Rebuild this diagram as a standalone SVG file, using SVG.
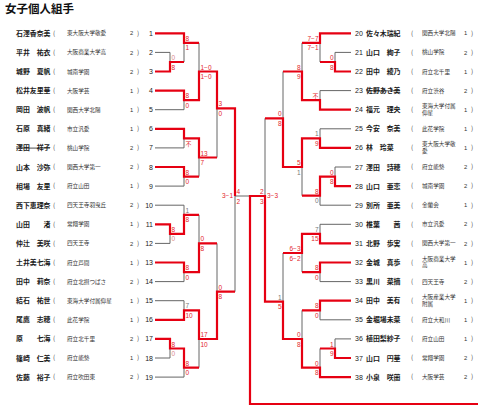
<svg xmlns="http://www.w3.org/2000/svg" width="482" height="415" viewBox="0 0 482 415">
<style>
text{font-family:"Noto Sans CJK JP","Noto Sans CJK SC",sans-serif}
.t{font-size:11.5px;font-weight:700;fill:#111}
.nm{font-size:6.9px;font-weight:700;fill:#1a1a1a}
.sc{font-size:5.6px;fill:#333}
.pa{font-size:6.5px;fill:#444}
.gr{font-size:5.8px;fill:#333;font-family:"Liberation Sans",sans-serif}
.no{font-size:7px;fill:#222;font-family:"Liberation Sans",sans-serif}
.s{font-size:6.5px;fill:#e3262b;font-family:"Liberation Sans",sans-serif}
.sg{fill:#777}
.sp{fill:#d98a8a}
.e{text-anchor:end}
.r{stroke:#e60012;stroke-width:2.2;fill:none}
.g{stroke:#666;stroke-width:1;fill:none}
.k{stroke:#222;stroke-width:0.8}
</style>
<text class="t" x="5" y="12.5">女子個人組手</text>

<g id="connectors">
<path class="g" d="M155 52.4H170V62M155 109.7H184V100.2M155 147.9H184V138.4M155 186.1H184V176.6M155 205.2H184V214.8M155 243.4H170V233.9M155 281.6H184V272.1M155 300.7H184V310.3M155 358H170V348.5M155 377.1H184V367.6M184 62V42.9M199 42.9V71.5M199 176.6V157.5M217 157.5V108.3M199 214.8V243.4M199 367.6V339M217 243.4V291.7M235 291.7V196M235 196H250"/>
<path class="g" d="M351 52.4H335V62M351 90.6H320V100.2M351 128.8H320V138.4M351 167H335V176.6M351 205.2H320V195.7M351 224.3H320V233.9M351 281.6H320V272.1M351 319.8H320V310.3M351 338.9H335V348.5M320 62V42.9M302 42.9V71.5M302 195.7V167M283 71.5V118.3M302 272.1V253M320 348.5V367.6M302 310.3V339M283 253V301.7M265 118.3V196"/>
<path class="r" d="M155 33.3H184V42.9H199"/>
<path class="r" d="M155 71.5H170V62H184"/>
<path class="r" d="M155 90.6H184V100.2H199V71.5H217V108.3H235V196"/>
<path class="r" d="M155 128.8H184V138.4H199V157.5H217"/>
<path class="r" d="M155 167H184V176.6H199"/>
<path class="r" d="M155 224.3H170V233.9H184V214.8H199"/>
<path class="r" d="M155 262.5H184V272.1H199V243.4H217"/>
<path class="r" d="M155 319.8H184V310.3H199V339H217V291.7H235"/>
<path class="r" d="M155 338.9H170V348.5H184V367.6H199"/>
<path class="r" d="M351 33.3H320V42.9H302"/>
<path class="r" d="M351 71.5H335V62H320"/>
<path class="r" d="M351 109.7H320V100.2H302V71.5H283"/>
<path class="r" d="M351 147.9H320V138.4H302V167H283V118.3H265"/>
<path class="r" d="M351 186.1H335V176.6H320V195.7H302"/>
<path class="r" d="M351 243.4H320V233.9H302V253H283"/>
<path class="r" d="M351 262.5H320V272.1H302"/>
<path class="r" d="M351 300.7H320V310.3H302"/>
<path class="r" d="M351 358H335V348.5H320"/>
<path class="r" d="M351 377.1H320V367.6H302V339H283V301.7H265V196H250V404H478"/>
</g>

<g id="scores">
<text class="s sp" x="171.5" y="60">0</text><text class="s" x="171.5" y="69.5">8</text>
<text class="s" x="185.5" y="40.9">8</text><text class="s" x="185.5" y="50.4">1</text>
<text class="s" x="185.5" y="98.2">8</text><text class="s" x="185.5" y="107.7">0</text>
<text class="s" x="200.5" y="69.5">1−0</text><text class="s" x="200.5" y="79">1−0</text>
<text class="s" x="185.5" y="145.5" style="font-family:'Noto Sans CJK JP';font-size:6px">不</text>
<text class="s" x="185.5" y="174.6">8</text><text class="s" x="185.5" y="184.1">0</text>
<text class="s" x="200.5" y="155.5">13</text><text class="s" x="200.5" y="165">7</text>
<text class="s" x="218.5" y="106.3">3</text><text class="s" x="218.5" y="115.8">0</text>
<text class="s" x="171.5" y="231.9">8</text><text class="s sp" x="171.5" y="241.4">0</text>
<text class="s sg" x="185.5" y="212.8">1</text><text class="s" x="185.5" y="222.3">8</text>
<text class="s" x="185.5" y="270.1">8</text><text class="s" x="185.5" y="279.6">0</text>
<text class="s" x="200.5" y="241.4">0</text><text class="s" x="200.5" y="250.9">8</text>
<text class="s sg" x="185.5" y="308.3">7</text><text class="s" x="185.5" y="317.8">10</text>
<text class="s" x="171.5" y="346.5">8</text><text class="s sp" x="171.5" y="356">0</text>
<text class="s" x="185.5" y="365.6">8</text><text class="s" x="185.5" y="375.1">0</text>
<text class="s" x="200.5" y="337">17</text><text class="s" x="200.5" y="346.5">10</text>
<text class="s" x="218.5" y="289.7">0</text><text class="s" x="218.5" y="299.2">8</text>
<text class="s" x="236.5" y="194">4</text><text class="s" x="236.5" y="203.5">2</text>
<text class="s e" x="233" y="198.4">3−1</text>
<text class="s e" x="263.5" y="194">2</text><text class="s e" x="263.5" y="203.5">3</text>
<text class="s" x="267" y="198.4">3−3</text>
<text class="s e" x="333.5" y="60">0</text><text class="s e" x="333.5" y="69.5">8</text>
<text class="s e" x="318.5" y="40.9">7−7</text><text class="s e" x="318.5" y="50.4">7−1</text>
<text class="s e" x="318.5" y="98.2" style="font-family:'Noto Sans CJK JP';font-size:6px">不</text>
<text class="s e" x="300.5" y="69.5">8</text><text class="s e" x="300.5" y="79">9</text>
<text class="s e sg" x="318.5" y="136.4">1</text><text class="s e" x="318.5" y="145.9">9</text>
<text class="s e" x="333.5" y="174.6">0</text><text class="s e" x="333.5" y="184.1">8</text>
<text class="s e" x="318.5" y="193.7">8</text><text class="s e sg" x="318.5" y="203.2">0</text>
<text class="s e" x="300.5" y="165">5</text><text class="s e sg" x="300.5" y="174.5">1</text>
<text class="s e" x="281.5" y="116.3">0</text><text class="s e" x="281.5" y="125.8">8</text>
<text class="s e sg" x="318.5" y="231.9">7</text><text class="s e" x="318.5" y="241.4">15</text>
<text class="s e" x="318.5" y="270.1">8</text><text class="s e" x="318.5" y="279.6">0</text>
<text class="s e" x="300.5" y="251">6−3</text><text class="s e" x="300.5" y="260.5">6−2</text>
<text class="s e" x="318.5" y="308.3">8</text><text class="s e" x="318.5" y="317.8">0</text>
<text class="s e" x="333.5" y="346.5">1</text><text class="s e" x="333.5" y="356">9</text>
<text class="s e" x="318.5" y="365.6">0</text><text class="s e" x="318.5" y="375.1">8</text>
<text class="s e" x="300.5" y="337">0</text><text class="s e" x="300.5" y="346.5">8</text>
<text class="s e sg" x="281.5" y="299.7">1</text><text class="s e" x="281.5" y="309.2">5</text>
</g>

<g id="p1"><text class="nm" x="16" y="35.8">石澤香奈美</text><text class="pa" x="53" y="35.6">(</text><text class="sc" x="67" y="35.3">東大阪大学敬愛</text><text class="gr" x="130" y="35.4">2</text><text class="pa" x="137" y="35.6">)</text><text class="no e" x="153" y="35.8">1</text></g>
<g id="p2"><text class="nm" x="16" y="54.9">平井　祐衣</text><text class="pa" x="53" y="54.7">(</text><text class="sc" x="67" y="54.4">大阪商業大学高</text><text class="gr" x="130" y="54.5">2</text><text class="pa" x="137" y="54.7">)</text><text class="no e" x="153" y="54.9">2</text></g>
<g id="p3"><text class="nm" x="16" y="74">城野　夏帆</text><text class="pa" x="53" y="73.8">(</text><text class="sc" x="67" y="73.5">城南学園</text><text class="gr" x="130" y="73.6">2</text><text class="pa" x="137" y="73.8">)</text><text class="no e" x="153" y="74">3</text></g>
<g id="p4"><text class="nm" x="16" y="93.1">松井友里華</text><text class="pa" x="53" y="92.9">(</text><text class="sc" x="67" y="92.6">大阪学芸</text><text class="gr" x="130" y="92.7">1</text><text class="pa" x="137" y="92.9">)</text><text class="no e" x="153" y="93.1">4</text></g>
<g id="p5"><text class="nm" x="16" y="112.2">岡田　波帆</text><text class="pa" x="53" y="112">(</text><text class="sc" x="67" y="111.7">関西大学北陽</text><text class="gr" x="130" y="111.8">1</text><text class="pa" x="137" y="112">)</text><text class="no e" x="153" y="112.2">5</text></g>
<g id="p6"><text class="nm" x="16" y="131.3">石原　真緒</text><text class="pa" x="53" y="131.1">(</text><text class="sc" x="67" y="130.8">市立汎愛</text><text class="gr" x="130" y="130.9">1</text><text class="pa" x="137" y="131.1">)</text><text class="no e" x="153" y="131.3">6</text></g>
<g id="p7"><text class="nm" x="16" y="150.4">澤田　祥子</text><line class="k" x1="16" y1="148.1" x2="50" y2="148.1"/><text class="pa" x="53" y="150.2">(</text><text class="sc" x="67" y="149.9">桃山学院</text><text class="gr" x="130" y="150">2</text><text class="pa" x="137" y="150.2">)</text><text class="no e" x="153" y="150.4">7</text></g>
<g id="p8"><text class="nm" x="16" y="169.5">山本　沙弥</text><text class="pa" x="53" y="169.3">(</text><text class="sc" x="67" y="169">関西大学第一</text><text class="gr" x="130" y="169.1">2</text><text class="pa" x="137" y="169.3">)</text><text class="no e" x="153" y="169.5">8</text></g>
<g id="p9"><text class="nm" x="16" y="188.6">相場　友里</text><text class="pa" x="53" y="188.4">(</text><text class="sc" x="67" y="188.1">府立山田</text><text class="gr" x="130" y="188.2">1</text><text class="pa" x="137" y="188.4">)</text><text class="no e" x="153" y="188.6">9</text></g>
<g id="p10"><text class="nm" x="16" y="207.7">西下恵理奈</text><text class="pa" x="53" y="207.5">(</text><text class="sc" x="67" y="207.2">四天王寺羽曳丘</text><text class="gr" x="130" y="207.3">2</text><text class="pa" x="137" y="207.5">)</text><text class="no e" x="153" y="207.7">10</text></g>
<g id="p11"><text class="nm" x="16" y="226.8">山田　　渚</text><text class="pa" x="53" y="226.6">(</text><text class="sc" x="67" y="226.3">常翔学園</text><text class="gr" x="130" y="226.4">1</text><text class="pa" x="137" y="226.6">)</text><text class="no e" x="153" y="226.8">11</text></g>
<g id="p12"><text class="nm" x="16" y="245.9">仲辻　美咲</text><text class="pa" x="53" y="245.7">(</text><text class="sc" x="67" y="245.4">四天王寺</text><text class="gr" x="130" y="245.5">2</text><text class="pa" x="137" y="245.7">)</text><text class="no e" x="153" y="245.9">12</text></g>
<g id="p13"><text class="nm" x="16" y="265">土井美七海</text><text class="pa" x="53" y="264.8">(</text><text class="sc" x="67" y="264.5">府立芦間</text><text class="gr" x="130" y="264.6">1</text><text class="pa" x="137" y="264.8">)</text><text class="no e" x="153" y="265">13</text></g>
<g id="p14"><text class="nm" x="16" y="284.1">田中　莉奈</text><text class="pa" x="53" y="283.9">(</text><text class="sc" x="67" y="283.6">府立北摂つばさ</text><text class="gr" x="130" y="283.7">2</text><text class="pa" x="137" y="283.9">)</text><text class="no e" x="153" y="284.1">14</text></g>
<g id="p15"><text class="nm" x="16" y="303.2">結石　祐世</text><text class="pa" x="53" y="303">(</text><text class="sc" x="67" y="302.7">東海大学付属仰星</text><text class="gr" x="130" y="302.8">1</text><text class="pa" x="137" y="303">)</text><text class="no e" x="153" y="303.2">15</text></g>
<g id="p16"><text class="nm" x="16" y="322.3">尾鷹　志穂</text><text class="pa" x="53" y="322.1">(</text><text class="sc" x="67" y="321.8">此花学院</text><text class="gr" x="130" y="321.9">1</text><text class="pa" x="137" y="322.1">)</text><text class="no e" x="153" y="322.3">16</text></g>
<g id="p17"><text class="nm" x="16" y="341.4">原　　七海</text><text class="pa" x="53" y="341.2">(</text><text class="sc" x="67" y="340.9">府立北千里</text><text class="gr" x="130" y="341">2</text><text class="pa" x="137" y="341.2">)</text><text class="no e" x="153" y="341.4">17</text></g>
<g id="p18"><text class="nm" x="16" y="360.5">篠崎　仁美</text><text class="pa" x="53" y="360.3">(</text><text class="sc" x="67" y="360">府立能勢</text><text class="gr" x="130" y="360.1">1</text><text class="pa" x="137" y="360.3">)</text><text class="no e" x="153" y="360.5">18</text></g>
<g id="p19"><text class="nm" x="16" y="379.6">佐藤　裕子</text><text class="pa" x="53" y="379.4">(</text><text class="sc" x="67" y="379.1">府立吹田東</text><text class="gr" x="130" y="379.2">2</text><text class="pa" x="137" y="379.4">)</text><text class="no e" x="153" y="379.6">19</text></g>

<g id="p20"><text class="no" x="355" y="35.8">20</text><text class="nm" x="366" y="35.8">佐々木瑞紀</text><text class="pa" x="411" y="35.6">(</text><text class="sc" x="422" y="35.3">関西大学北陽</text><text class="gr" x="464" y="35.4">1</text><text class="pa" x="471" y="35.6">)</text></g>
<g id="p21"><text class="no" x="355" y="54.9">21</text><text class="nm" x="366" y="54.9">山口　絢子</text><text class="pa" x="411" y="54.7">(</text><text class="sc" x="422" y="54.4">桃山学院</text><text class="gr" x="464" y="54.5">2</text><text class="pa" x="471" y="54.7">)</text></g>
<g id="p22"><text class="no" x="355" y="74">22</text><text class="nm" x="366" y="74">田中　綾乃</text><text class="pa" x="411" y="73.8">(</text><text class="sc" x="422" y="73.5">府立北千里</text><text class="gr" x="464" y="73.6">1</text><text class="pa" x="471" y="73.8">)</text></g>
<g id="p23"><text class="no" x="355" y="93.1">23</text><text class="nm" x="366" y="93.1">佐野あき美</text><line class="k" x1="366" y1="90.8" x2="400" y2="90.8"/><text class="pa" x="411" y="92.9">(</text><text class="sc" x="422" y="92.6">府立渋谷</text><text class="gr" x="464" y="92.7">2</text><text class="pa" x="471" y="92.9">)</text></g>
<g id="p24"><text class="no" x="355" y="112.2">24</text><text class="nm" x="366" y="112.2">福元　理央</text><text class="pa" x="411" y="112">(</text><text class="sc" x="422" y="107.8">東海大学付属</text><text class="sc" x="422" y="114.6">仰星</text><text class="gr" x="464" y="111.8">1</text><text class="pa" x="471" y="112">)</text></g>
<g id="p25"><text class="no" x="355" y="131.3">25</text><text class="nm" x="366" y="131.3">今安　奈美</text><text class="pa" x="411" y="131.1">(</text><text class="sc" x="422" y="130.8">此花学院</text><text class="gr" x="464" y="130.9">1</text><text class="pa" x="471" y="131.1">)</text></g>
<g id="p26"><text class="no" x="355" y="150.4">26</text><text class="nm" x="366" y="150.4">林　玲菜</text><text class="pa" x="411" y="150.2">(</text><text class="sc" x="422" y="146">東大阪大学敬</text><text class="sc" x="422" y="152.8">愛</text><text class="gr" x="464" y="150">1</text><text class="pa" x="471" y="150.2">)</text></g>
<g id="p27"><text class="no" x="355" y="169.5">27</text><text class="nm" x="366" y="169.5">澤田　詩穂</text><text class="pa" x="411" y="169.3">(</text><text class="sc" x="422" y="169">府立能勢</text><text class="gr" x="464" y="169.1">2</text><text class="pa" x="471" y="169.3">)</text></g>
<g id="p28"><text class="no" x="355" y="188.6">28</text><text class="nm" x="366" y="188.6">山口　亜恋</text><text class="pa" x="411" y="188.4">(</text><text class="sc" x="422" y="188.1">城南学園</text><text class="gr" x="464" y="188.2">2</text><text class="pa" x="471" y="188.4">)</text></g>
<g id="p29"><text class="no" x="355" y="207.7">29</text><text class="nm" x="366" y="207.7">別所　亜美</text><text class="pa" x="411" y="207.5">(</text><text class="sc" x="422" y="207.2">金蘭会</text><text class="gr" x="464" y="207.3">1</text><text class="pa" x="471" y="207.5">)</text></g>
<g id="p30"><text class="no" x="355" y="226.8">30</text><text class="nm" x="366" y="226.8">椎葉　　茜</text><text class="pa" x="411" y="226.6">(</text><text class="sc" x="422" y="226.3">市立汎愛</text><text class="gr" x="464" y="226.4">2</text><text class="pa" x="471" y="226.6">)</text></g>
<g id="p31"><text class="no" x="355" y="245.9">31</text><text class="nm" x="366" y="245.9">北野　歩実</text><text class="pa" x="411" y="245.7">(</text><text class="sc" x="422" y="245.4">関西大学第一</text><text class="gr" x="464" y="245.5">2</text><text class="pa" x="471" y="245.7">)</text></g>
<g id="p32"><text class="no" x="355" y="265">32</text><text class="nm" x="366" y="265">金城　真歩</text><text class="pa" x="411" y="264.8">(</text><text class="sc" x="422" y="260.6">大阪商業大学</text><text class="sc" x="422" y="267.4">高</text><text class="gr" x="464" y="264.6">1</text><text class="pa" x="471" y="264.8">)</text></g>
<g id="p33"><text class="no" x="355" y="284.1">33</text><text class="nm" x="366" y="284.1">黒川　菜摘</text><text class="pa" x="411" y="283.9">(</text><text class="sc" x="422" y="283.6">四天王寺</text><text class="gr" x="464" y="283.7">2</text><text class="pa" x="471" y="283.9">)</text></g>
<g id="p34"><text class="no" x="355" y="303.2">34</text><text class="nm" x="366" y="303.2">田中　美有</text><text class="pa" x="411" y="303">(</text><text class="sc" x="422" y="298.8">大阪産業大学</text><text class="sc" x="422" y="305.6">附属</text><text class="gr" x="464" y="302.8">1</text><text class="pa" x="471" y="303">)</text></g>
<g id="p35"><text class="no" x="355" y="322.3">35</text><text class="nm" x="366" y="322.3">金堀場未菜</text><text class="pa" x="411" y="322.1">(</text><text class="sc" x="422" y="321.8">府立大和川</text><text class="gr" x="464" y="321.9">1</text><text class="pa" x="471" y="322.1">)</text></g>
<g id="p36"><text class="no" x="355" y="341.4">36</text><text class="nm" x="366" y="341.4">植田梨紗子</text><text class="pa" x="411" y="341.2">(</text><text class="sc" x="422" y="340.9">府立山田</text><text class="gr" x="464" y="341">1</text><text class="pa" x="471" y="341.2">)</text></g>
<g id="p37"><text class="no" x="355" y="360.5">37</text><text class="nm" x="366" y="360.5">山口　円華</text><text class="pa" x="411" y="360.3">(</text><text class="sc" x="422" y="360">常翔学園</text><text class="gr" x="464" y="360.1">2</text><text class="pa" x="471" y="360.3">)</text></g>
<g id="p38"><text class="no" x="355" y="379.6">38</text><text class="nm" x="366" y="379.6">小泉　咲蘭</text><text class="pa" x="411" y="379.4">(</text><text class="sc" x="422" y="379.1">大阪学芸</text><text class="gr" x="464" y="379.2">2</text><text class="pa" x="471" y="379.4">)</text></g>
</svg>
